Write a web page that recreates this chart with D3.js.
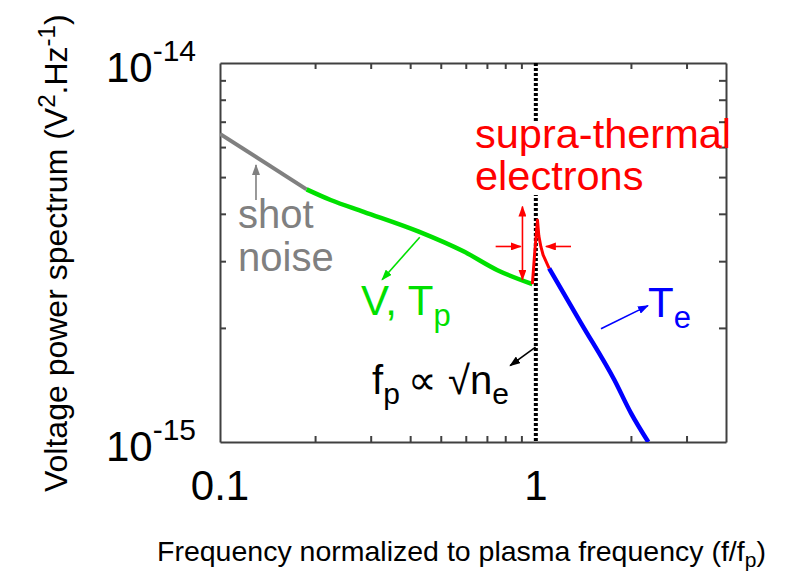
<!DOCTYPE html>
<html>
<head>
<meta charset="utf-8">
<script src="https://cdn.jsdelivr.net/npm/d3@7"></script>
<style>
  body { margin: 0; background: #fff; }
  svg { display: block; font-family: "Liberation Sans", Arial, Helvetica, sans-serif; }
</style>
</head>
<body>
<svg id="chart" width="810" height="571"></svg>
<script>
// values: f/fp on x, V^2/Hz on y
var shotF = [0.1, 0.188];
var shotV = [6.5e-15, 4.64e-15];
var ionF  = [0.188, 0.224, 0.285, 0.426, 0.592, 0.756, 0.975];
var ionV  = [4.64e-15, 4.35e-15, 4.05e-15, 3.59e-15, 3.18e-15, 2.84e-15, 2.61e-15];
var peakF = [0.975, 0.993, 1.012, 1.022, 1.037, 1.055, 1.076, 1.102];
var peakV = [2.61e-15, 3.2e-15, 3.85e-15, 3.5e-15, 3.28e-15, 3.11e-15, 3.0e-15, 2.87e-15];
var elecF = [1.102, 1.39, 1.773, 2.003, 2.27];
var elecV = [2.87e-15, 2.06e-15, 1.457e-15, 1.19e-15, 1.0e-15];

var xTicks = [0.1, 1];
var xTickLabels = ["0.1", "1"];
var xMinor = [0.2, 0.3, 0.4, 0.5, 0.6, 0.7, 0.8, 0.9, 2, 3];
var yTicks = [1e-14, 1e-15];
var yTickExp = ["-14", "-15"];
var yMinor = [2e-15, 3e-15, 4e-15, 5e-15, 6e-15, 7e-15, 8e-15, 9e-15];

var svg = d3.select("#chart");

// plot box
var margin = {top: 63, right: 84, bottom: 129, left: 220},
    width = 810 - margin.left - margin.right,
    height = 571 - margin.top - margin.bottom;

var x = d3.scaleLog().domain([0.1, 4]).range([0, width]);
var y = d3.scaleLog().domain([1e-15, 1e-14]).range([height, 0]);

var g = svg.append("g")
    .attr("transform", "translate(" + margin.left + "," + margin.top + ")");

// markers for the little arrows
var defs = svg.append("defs");
function marker(id, col) {
  defs.append("marker")
      .attr("id", id)
      .attr("markerUnits", "userSpaceOnUse")
      .attr("markerWidth", 11).attr("markerHeight", 8)
      .attr("refX", 10).attr("refY", 4)
      .attr("orient", "auto-start-reverse")
    .append("path")
      .attr("d", "M0,0L11,4L0,8Z")
      .attr("fill", col);
}
marker("ah-grey", "#808080");
marker("ah-green", "#00e000");
marker("ah-blue", "#0000ff");
marker("ah-black", "#000");
marker("ah-red", "#ff0000");

defs.append("clipPath").attr("id", "plotclip")
  .append("rect").attr("width", width).attr("height", height);

// frame + inward ticks on all four sides
var frameCol = "#404040";
function styleAxis(sel) {
  sel.selectAll("path, line").attr("stroke", frameCol).attr("stroke-width", 2);
  sel.selectAll("text").remove();
}
g.append("g").attr("transform", "translate(0," + height + ")")
  .call(d3.axisBottom(x).tickValues(xMinor).tickSize(-6).tickSizeOuter(0).tickFormat(""))
  .call(styleAxis);
g.append("g")
  .call(d3.axisTop(x).tickValues(xMinor).tickSize(-6).tickSizeOuter(0).tickFormat(""))
  .call(styleAxis);
g.append("g")
  .call(d3.axisLeft(y).tickValues(yMinor).tickSize(-6).tickSizeOuter(0).tickFormat(""))
  .call(styleAxis);
g.append("g").attr("transform", "translate(" + width + ",0)")
  .call(d3.axisRight(y).tickValues(yMinor).tickSize(-7).tickSizeOuter(0).tickFormat(""))
  .call(styleAxis);

// plasma frequency marker (hidden behind the red label block)
g.append("line")
  .attr("x1", x(1)).attr("x2", x(1))
  .attr("y1", 0).attr("y2", height)
  .attr("stroke", "#000").attr("stroke-width", 4)
  .attr("stroke-dasharray", "3,2");
g.append("rect")
  .attr("x", x(1) - 6).attr("width", 12)
  .attr("y", 60).attr("height", 72)
  .attr("fill", "#fff");

// spectrum pieces
var line = d3.line()
  .x(function(d) { return x(d[0]); })
  .y(function(d) { return y(d[1]); });

function piece(F, V, col, w, curve) {
  g.append("path")
    .datum(d3.zip(F, V))
    .attr("clip-path", "url(#plotclip)")
    .attr("fill", "none")
    .attr("stroke", col)
    .attr("stroke-width", w)
    .attr("stroke-linejoin", "round")
    .attr("d", line.curve(curve));
}
piece(shotF, shotV, "#808080", 4, d3.curveLinear);
piece(ionF, ionV, "#00e000", 4.5, d3.curveMonotoneX);
piece(elecF, elecV, "#0000ff", 4.5, d3.curveMonotoneX);
piece(peakF, peakV, "#ff0000", 3, d3.curveLinear);

// annotation arrows, in data units [f1, v1, f2, v2]
var arrows = [
  {p: [0.130, 4.35e-15, 0.130, 5.38e-15], c: "#808080", m: "ah-grey"},
  {p: [0.429, 3.47e-15, 0.326, 2.68e-15], c: "#00e000", m: "ah-green"},
  {p: [1.608, 1.99e-15, 2.265, 2.29e-15], c: "#0000ff", m: "ah-blue"},
  {p: [0.998, 1.78e-15, 0.829, 1.59e-15], c: "#000", m: "ah-black"},
  {p: [0.907, 2.68e-15, 0.907, 4.18e-15], c: "#ff0000", m: "ah-red", both: true},
  {p: [0.746, 3.28e-15, 0.896, 3.28e-15], c: "#ff0000", m: "ah-red"},
  {p: [1.292, 3.28e-15, 1.076, 3.28e-15], c: "#ff0000", m: "ah-red"}
];
arrows.forEach(function(a) {
  var l = g.append("line")
    .attr("x1", x(a.p[0])).attr("y1", y(a.p[1]))
    .attr("x2", x(a.p[2])).attr("y2", y(a.p[3]))
    .attr("stroke", a.c).attr("stroke-width", 1.6)
    .attr("marker-end", "url(#" + a.m + ")");
  if (a.both) l.attr("marker-start", "url(#" + a.m + ")");
});

// tick labels
xTicks.forEach(function(v, i) {
  svg.append("text")
    .attr("x", margin.left + x(v)).attr("y", margin.top + height + 58)
    .attr("text-anchor", "middle")
    .attr("font-size", 42)
    .text(xTickLabels[i]);
});
yTicks.forEach(function(v, i) {
  var t = svg.append("text")
    .attr("x", margin.left - 24).attr("y", margin.top + y(v) + 19)
    .attr("text-anchor", "end")
    .attr("font-size", 42);
  t.append("tspan").text("10");
  t.append("tspan").attr("dy", -21).attr("font-size", 30).text(yTickExp[i]);
});

// axis titles
var xt = svg.append("text")
  .attr("x", 157).attr("y", 561)
  .attr("font-size", 28.5);
xt.append("tspan").text("Frequency normalized to plasma frequency (f/f");
xt.append("tspan").attr("font-size", 21).attr("dy", 6).text("p");
xt.append("tspan").attr("dy", -6).text(")");

var yt = svg.append("text")
  .attr("transform", "translate(67,492) rotate(-90)")
  .attr("font-size", 32);
yt.append("tspan").text("Voltage power spectrum (V");
yt.append("tspan").attr("font-size", 24).attr("dy", -12).text("2");
yt.append("tspan").attr("dy", 12).text(".Hz");
yt.append("tspan").attr("font-size", 24).attr("dy", -12).text("-1");
yt.append("tspan").attr("dy", 12).text(")");

// labels inside the plot
function label(px, py, col, size, parts) {
  var t = svg.append("text").attr("x", px).attr("y", py)
    .attr("fill", col).attr("font-size", size);
  parts.forEach(function(p) {
    var s = t.append("tspan").text(p[0]);
    if (p[1]) s.attr("font-size", p[1]);
    if (p[2]) s.attr("dy", p[2]);
  });
}
label(238, 228, "#808080", 40, [["shot"]]);
label(238, 271, "#808080", 40, [["noise"]]);
label(361, 315, "#00e000", 42, [["V, T"], ["p", 31, 11]]);
label(648, 317, "#0000ff", 42, [["T"], ["e", 31, 11]]);
label(475, 148, "#ff0000", 41.5, [["supra-thermal"]]);
label(475, 190, "#ff0000", 41.5, [["electrons"]]);
label(372, 394, "#000", 40, [["f"], ["p", 30, 10], ["\u2009\u221D \u221A", 40, -10], ["n"], ["e", 30, 10]]);
</script>
</body>
</html>
